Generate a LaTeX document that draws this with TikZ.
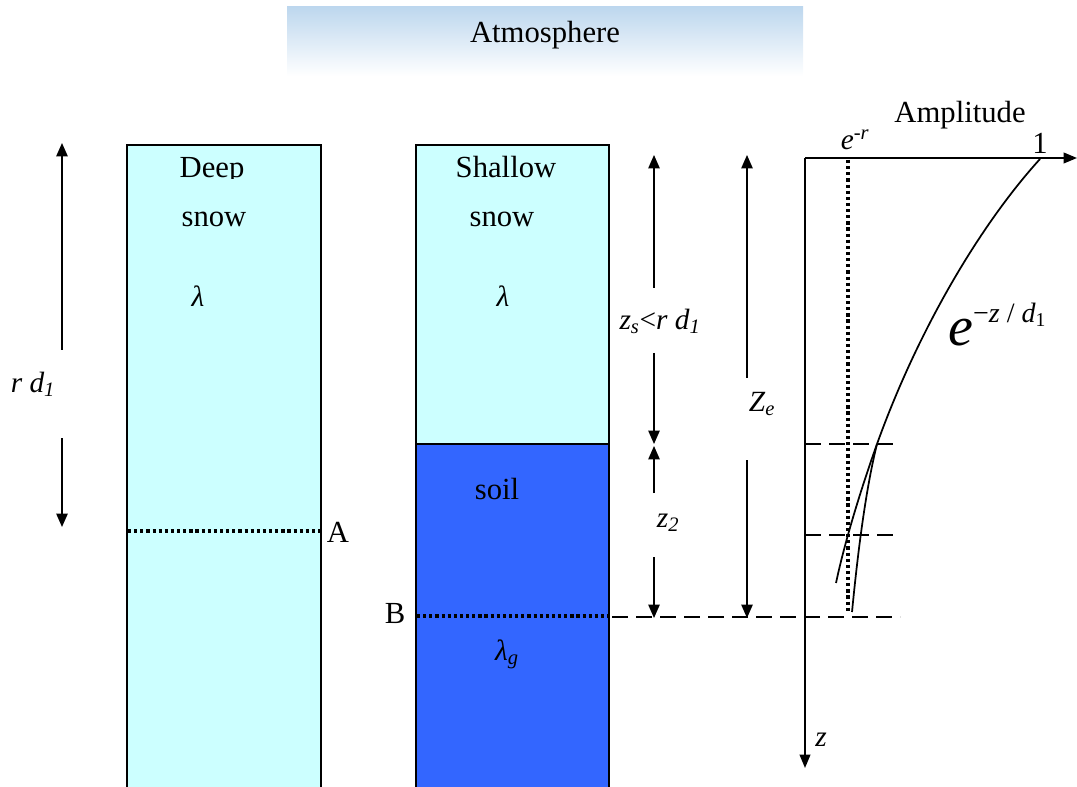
\documentclass[tikz,border=0pt]{standalone}
\usepackage{fontspec}
\setmainfont{Liberation Serif}
\usetikzlibrary{arrows.meta}
\definecolor{snowc}{RGB}{204,255,255}
\definecolor{soilc}{RGB}{51,102,255}
\definecolor{atmc}{RGB}{189,215,238}
\begin{document}
\begin{tikzpicture}[x=0.75pt,y=-0.75pt,
  txt/.style={inner sep=0pt,font=\fontsize{23}{27}\selectfont},
  itxt/.style={inner sep=0pt,font=\fontsize{22}{26}\selectfont\itshape},
  layer/.style={draw=black,line width=1.3pt},
  dim/.style={line width=1.1pt,-{Triangle[length=10pt,width=8.5pt]}},
  dotl/.style={line width=2.6pt,dash pattern=on 2.4pt off 2.2pt},
  dashl/.style={line width=2pt,dash pattern=on 12pt off 6pt},
  axis/.style={line width=1.3pt,-{Triangle[length=10pt,width=8pt]}}]
\useasboundingbox (0,0) rectangle (1077,787);
% atmosphere
\shade[top color=atmc,bottom color=white] (287,7) rectangle (803,76);
\node[txt] (atm) at (545,35) {Atmosphere};
% deep snow column
\path[fill=snowc] (127,145) rectangle (321,790);
\draw[layer] (127,790) -- (127,145) -- (321,145) -- (321,790);
\begin{scope}
\clip (130,148) rectangle (318,179);
\node[txt,anchor=base] (deep) at (212,178) {Deep};
\end{scope}
\node[txt,anchor=base] (snowa) at (214,227) {snow};
\node[itxt] (lama) at (198,296) {λ};
\coordinate (A1) at (128,531);
\coordinate (A2) at (320,531);
\draw[dotl] (A1) -- (A2);
\node[txt] (A) at (338,532) {A};
% shallow snow + soil column
\path[fill=snowc] (416,145) rectangle (609,444);
\path[fill=soilc] (416,444) rectangle (609,790);
\draw[layer] (416,790) -- (416,145) -- (609,145) -- (609,790);
\draw[layer] (416,444) -- (609,444);
\node[txt,anchor=base] (shallow) at (506,178) {Shallow};
\node[txt,anchor=base] (snowb) at (502,227) {snow};
\node[itxt] (lamb) at (503,296) {λ};
\node[txt,anchor=base] (soil) at (497,499) {soil};
\coordinate (B1) at (417,616);
\coordinate (B2) at (608,616);
\draw[dotl] (B1) -- (B2);
\node[txt] (B) at (395,614) {B};
\node[itxt] (lamg) at (507,654) {λ\textsubscript{g}};
% left dimension r d1
\node[itxt] (rd) at (33,384) {r d\textsubscript{1}};
\coordinate (rdt) at (62,143);
\coordinate (rdb) at (62,527);
\draw[dim] (62,350) -- (rdt);
\draw[dim] (62,438) -- (rdb);
% zs dimension
\node[itxt] (zs) at (660,321) {z\textsubscript{s}\upshape<\itshape r d\textsubscript{1}};
\coordinate (zst) at (654,155);
\coordinate (zsb) at (654,444);
\draw[dim] (654,288) -- (zst);
\draw[dim] (654,353) -- (zsb);
% z2 dimension
\node[itxt] (z2) at (668,523) {z\textsubscript{2}};
\coordinate (z2t) at (654,446);
\coordinate (z2b) at (654,618);
\draw[dim] (654,493) -- (z2t);
\draw[dim] (654,557) -- (z2b);
% Ze dimension
\node[itxt] (Ze) at (762,404) {Z\textsubscript{e}};
\coordinate (Zet) at (747,155);
\coordinate (Zeb) at (747,618);
\draw[dim] (747,378) -- (Zet);
\draw[dim] (747,460) -- (Zeb);
% dashed level lines
\coordinate (d1a) at (805,444); \coordinate (d1b) at (900,444);
\coordinate (d2a) at (805,535); \coordinate (d2b) at (900,535);
\coordinate (d3a) at (612,617); \coordinate (d3b) at (900,617);
\draw[dashl] (d1a) -- (d1b);
\draw[dashl] (d2a) -- (d2b);
\draw[dashl] (d3a) -- (d3b);
% axes
\coordinate (O) at (805,158);
\coordinate (xend) at (1077,158);
\coordinate (zend) at (805,768);
\draw[axis] (O) -- (xend);
\draw[axis] (O) -- (zend);
\node[txt] (amp) at (960,115) {Amplitude};
\node[txt] (one) at (1040,143) {1};
\node[itxt] (er) at (855,140) {e\textsuperscript{-r}};
\node[itxt] (z) at (821,740) {z};
% e^-r level
\coordinate (er1) at (848,160);
\coordinate (er2) at (848,612);
\draw[dotl] (er1) -- (er2);
% curves
\coordinate (c0) at (1040,159);
\coordinate (c1) at (877,444);
\coordinate (c2) at (836,583);
\coordinate (c3) at (852,612);
\draw[line width=1.3pt] (c0) .. controls (980,225) and (918,330) .. (c1)
  .. controls (863,483) and (845,540) .. (c2);
\draw[line width=1.3pt] (c1) .. controls (866,488) and (858,550) .. (c3);
\node[inner sep=0pt,anchor=base west] (ez) at (948,346) {\fontsize{42}{42}\selectfont\itshape e\raisebox{0.42em}{\fontsize{21}{21}\selectfont\upshape −\textit{z}\ /\ \textit{d}\textsubscript{1}}};
\end{tikzpicture}
\end{document}
